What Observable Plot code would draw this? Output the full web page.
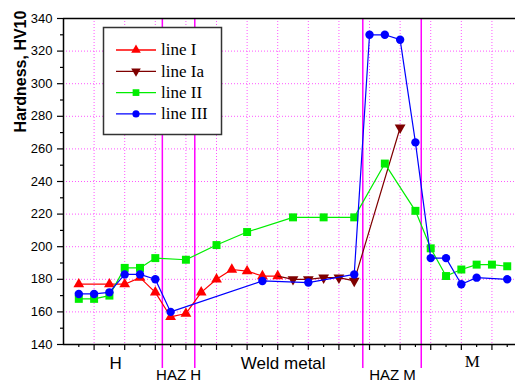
<!DOCTYPE html>
<html>
<head>
<meta charset="utf-8">
<script src="https://cdn.jsdelivr.net/npm/d3@7"></script>
<script src="https://cdn.jsdelivr.net/npm/@observablehq/plot@0.6"></script>
<style>
  html, body { margin: 0; padding: 0; background: #fff; }
  #chart { width: 515px; height: 382px; }
</style>
</head>
<body>
<div id="chart"></div>
<script>
// ---- data ----
const seriesNames = ["line I", "line Ia", "line II", "line III"];
const seriesColors = ["#ff0000", "#7f0000", "#00ee00", "#0000ff"];

const xI  = [0.5, 1.5, 2, 2.5, 3, 3.5, 4, 4.5, 5, 5.5, 6, 6.5, 7];
const yI  = [177, 177, 177, 181, 172, 157, 159, 172, 180, 186, 185, 182, 182];

const xIa = [7, 7.5, 8, 8.5, 9, 9.5, 11];
const yIa = [182, 180, 180, 181, 181, 179, 273];

const xII = [0.5, 1, 1.5, 2, 2.5, 3, 4, 5, 6, 7.5, 8.5, 9.5, 10.5, 11.5, 12, 12.5, 13, 13.5, 14, 14.5];
const yII = [168, 168, 170, 187, 187, 193, 192, 201, 209, 218, 218, 218, 251, 222, 199, 182, 186, 189, 189, 188];

const xIII = [0.5, 1, 1.5, 2, 2.5, 3, 3.5, 6.5, 8, 9.5, 10, 10.5, 11, 11.5, 12, 12.5, 13, 13.5, 14.5];
const yIII = [171, 171, 172, 183, 183, 180, 160, 179, 178, 183, 330, 330, 327, 264, 193, 193, 177, 181, 180];

const yTicks = [140, 160, 180, 200, 220, 240, 260, 280, 300, 320, 340];
const yMinor = [150, 170, 190, 210, 230, 250, 270, 290, 310, 330];
const yGrid  = [160, 180, 200, 220, 240, 260, 280, 300, 320];
const xMajor = [1, 2, 3, 4, 5, 6, 7, 8, 9, 10, 11, 12, 13, 14];
const xMinor = [0.5, 1.5, 2.5, 3.5, 4.5, 5.5, 6.5, 7.5, 8.5, 9.5, 10.5, 11.5, 12.5, 13.5, 14.5];

const zoneBounds = [3.23, 4.29, 9.78, 11.69];
const zoneLabels = ["H", "HAZ H", "Weld metal", "HAZ M", "M"];
const zoneX      = [1.70, 3.76, 7.18, 10.75, 13.36];

const yTitle = "Hardness, HV10";

// ---- build tables ----
const zip = (xs, ys) => xs.map((x, i) => ({x, y: ys[i]}));
const dI = zip(xI, yI), dIa = zip(xIa, yIa), dII = zip(xII, yII), dIII = zip(xIII, yIII);
const zones = zoneLabels.map((label, i) => ({label, x: zoneX[i]}));

const sans = "'Liberation Sans', Arial, sans-serif";
const serif = "'Liberation Serif', 'Times New Roman', serif";
const grid = "#ff55ff";

const zoneText = (labels, opts) => Plot.text(zones.filter(d => labels.includes(d.label)), {
  x: "x", text: "label", frameAnchor: "bottom", lineAnchor: "middle", fill: "#000", ...opts
});

const chart = Plot.plot({
  width: 515, height: 382,
  marginLeft: 63, marginRight: 0, marginTop: 18, marginBottom: 38,
  style: {background: "#fff", fontFamily: sans, overflow: "visible"},
  x: {domain: [0, 14.77], axis: null},
  y: {domain: [140, 340], axis: null},
  marks: [
    // dotted gridlines
    Plot.ruleY(yGrid, {stroke: grid, strokeWidth: 1, strokeDasharray: "1,2"}),
    Plot.ruleX(xMajor, {stroke: grid, strokeWidth: 1, strokeDasharray: "1,2"}),
    // zone boundaries
    Plot.ruleX(zoneBounds, {stroke: "#ff00ff", strokeWidth: 1.5, insetBottom: -24, insetTop: 1}),
    // frame lines
    Plot.ruleY([340], {stroke: "#000", strokeWidth: 1.5}),
    Plot.ruleY([140], {stroke: "#000", strokeWidth: 1.5}),
    Plot.ruleX([0], {stroke: "#000", strokeWidth: 1.5}),
    // axes
    Plot.axisY({ticks: yTicks, tickSize: 6, tickPadding: 5, fontSize: 13, label: null, fontFamily: sans, stroke: "#000", strokeWidth: 1.2, fill: "#000"}),
    Plot.axisY({ticks: yMinor, tickSize: 3, tickFormat: () => "", label: null, stroke: "#000", strokeWidth: 1.2}),
    Plot.axisX({ticks: xMajor, tickSize: 6, tickFormat: () => "", label: null, stroke: "#000", strokeWidth: 1.2}),
    Plot.axisX({ticks: xMinor, tickSize: 3, tickFormat: () => "", label: null, stroke: "#000", strokeWidth: 1.2}),
    // zone labels
    zoneText(["H", "Weld metal"], {fontSize: 17, fontFamily: sans, dy: 19}),
    zoneText(["M"], {fontSize: 17, fontFamily: serif, dy: 17}),
    zoneText(["HAZ H", "HAZ M"], {fontSize: 15, fontFamily: sans, dy: 31}),
    // y title
    Plot.text([yTitle], {text: d => d, frameAnchor: "top-left", rotate: -90, textAnchor: "middle", lineAnchor: "middle",
      dx: -43, dy: 53, fontSize: 16, fontWeight: "bold", fontFamily: sans, fill: "#000"}),
    // series
    Plot.line(dI, {x: "x", y: "y", stroke: seriesColors[0], strokeWidth: 1.2}),
    Plot.dot(dI, {x: "x", y: "y", symbol: "triangle", r: 4, fill: seriesColors[0], stroke: "none"}),
    Plot.line(dIa, {x: "x", y: "y", stroke: seriesColors[1], strokeWidth: 1.2}),
    Plot.dot(dIa.slice(1), {x: "x", y: "y", symbol: "triangle", r: 4, rotate: 180, fill: seriesColors[1], stroke: "none"}),
    Plot.line(dII, {x: "x", y: "y", stroke: seriesColors[2], strokeWidth: 1.2}),
    Plot.dot(dII, {x: "x", y: "y", symbol: "square", r: 4.5, fill: seriesColors[2], stroke: "none"}),
    Plot.line(dIII, {x: "x", y: "y", stroke: seriesColors[3], strokeWidth: 1.2}),
    Plot.dot(dIII, {x: "x", y: "y", symbol: "circle", r: 4.2, fill: seriesColors[3], stroke: "none"})
  ]
});

// ---- legend (inside the SVG) ----
const svg = d3.select(chart);
const lg = svg.append("g").attr("transform", "translate(103.5,27.5)");
lg.append("rect").attr("width", 118).attr("height", 107).attr("fill", "#fff").attr("stroke", "#333").attr("stroke-width", 1.5);
const symbols = [d3.symbolTriangle, d3.symbolTriangle, d3.symbolSquare, d3.symbolCircle];
const sizes = [40, 40, 45, 40];
seriesNames.forEach((name, i) => {
  const yy = 22.5 + i * 21.3;
  const row = lg.append("g").attr("transform", `translate(0,${yy})`);
  row.append("line").attr("x1", 12.5).attr("x2", 52.5).attr("y1", 0).attr("y2", 0)
    .attr("stroke", seriesColors[i]).attr("stroke-width", 1.3);
  row.append("path").attr("d", d3.symbol(symbols[i], sizes[i])())
    .attr("transform", `translate(32.5,0) rotate(${i === 1 ? 180 : 0})`)
    .attr("fill", seriesColors[i]);
  row.append("text").attr("x", 57.5).attr("y", 0).attr("dy", "0.32em")
    .attr("text-anchor", "start")
    .attr("font-family", serif).attr("font-size", 17).attr("fill", "#000").text(name);
});

document.getElementById("chart").appendChild(chart);
</script>
</body>
</html>
